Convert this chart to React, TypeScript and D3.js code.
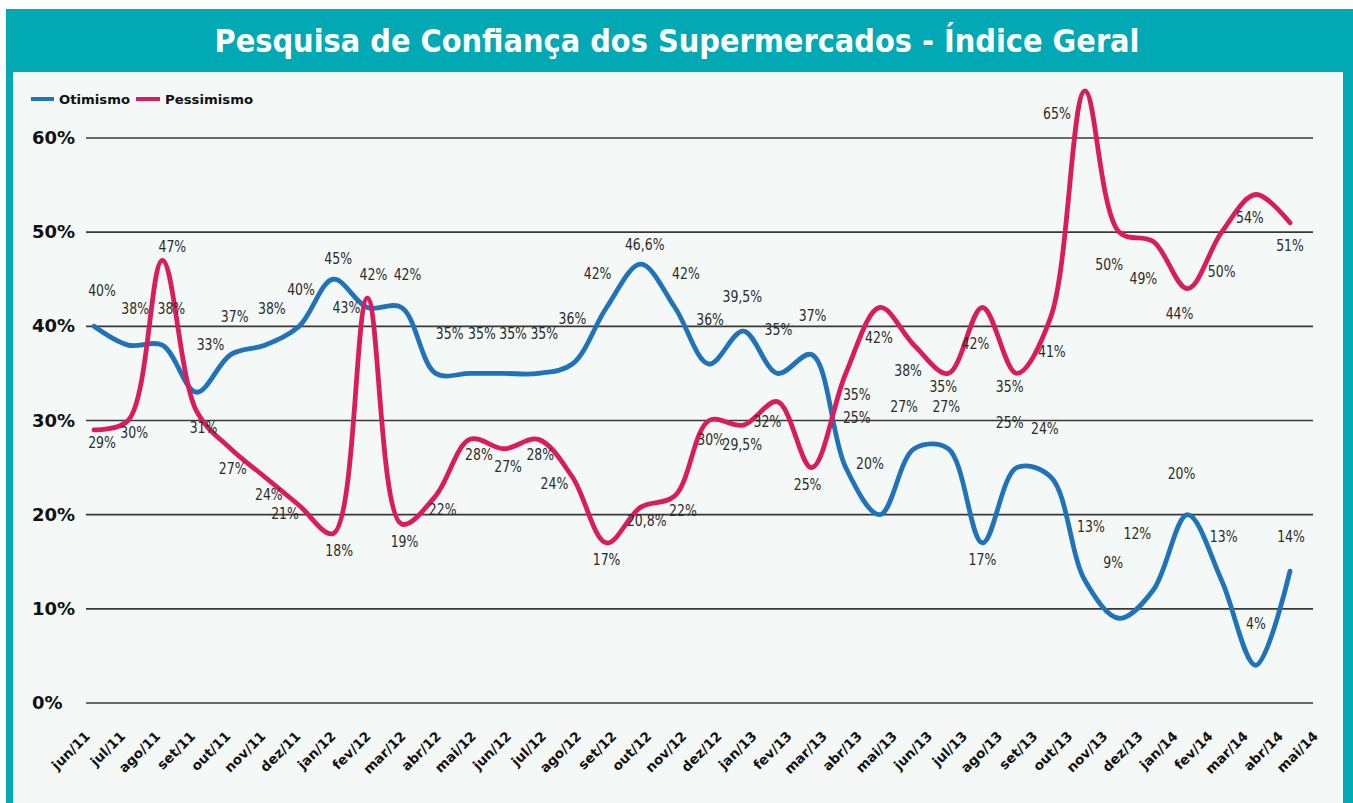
import * as d3 from "d3";

const WIDTH = 1353;
const HEIGHT = 803;

const TITLE = "Pesquisa de Confiança dos Supermercados - Índice Geral";

const months = [
  "jun/11", "jul/11", "ago/11", "set/11", "out/11", "nov/11", "dez/11",
  "jan/12", "fev/12", "mar/12", "abr/12", "mai/12", "jun/12", "jul/12",
  "ago/12", "set/12", "out/12", "nov/12", "dez/12", "jan/13", "fev/13",
  "mar/13", "abr/13", "mai/13", "jun/13", "jul/13", "ago/13", "set/13",
  "out/13", "nov/13", "dez/13", "jan/14", "fev/14", "mar/14", "abr/14",
  "mai/14",
];

const otimismo = [
  40, 38, 38, 33, 37, 38, 40, 45, 42, 42, 35, 35, 35, 35, 36, 42, 46.6, 42,
  36, 39.5, 35, 37, 25, 20, 27, 27, 17, 25, 24, 13, 9, 12, 20, 13, 4, 14,
];

const pessimismo = [
  29, 30, 47, 31, 27, 24, 21, 18, 43, 19, 22, 28, 27, 28, 24, 17, 20.8, 22,
  30, 29.5, 32, 25, 35, 42, 38, 35, 42, 35, 41, 65, 50, 49, 44, 50, 54, 51,
];

const yTicks = [0, 10, 20, 30, 40, 50, 60];

const series = [
  { name: "Otimismo", values: otimismo, color: "#2173b9" },
  { name: "Pessimismo", values: pessimismo, color: "#d91d5c" },
];

// where each value label sits, in px from its point
const otimismoNudge = [
  [8, -36], [7, -37], [9, -37], [14, -48], [4, -38], [7, -37], [2, -37],
  [5, -21], [6, -33], [6, -33], [14, -40], [12, -40], [9, -40], [6, -40],
  [0, -46], [-9, -34], [4, -20], [11, -34], [1, -45], [-1, -35], [1, -44],
  [1, -39], [11, -50], [-10, -51], [-10, -42], [-2, -42], [0, 17], [-7, -45],
  [-6, -49], [6, -54], [-6, -56], [-16, -57], [-6, -41], [2, -44], [0, -42],
  [1, -35],
];
const pessimismoNudge = [
  [8, 13], [6, 12], [10, -14], [7, 16], [2, 20], [4, 17], [-14, 8], [6, 17],
  [-21, 9], [3, 17], [7, 14], [9, 15], [4, 18], [2, 15], [-18, 6], [0, 17],
  [6, 13], [8, 15], [2, 19], [-1, 19], [-10, 20], [-4, 17], [11, 21], [-1, 30],
  [-6, 25], [-5, 13], [-7, 36], [-7, 13], [1, 35], [-28, 23], [-10, 32],
  [-10, 37], [-8, 25], [0, 39], [-6, 23], [0, 23],
];
const nudges = [otimismoNudge, pessimismoNudge];

const fmt = (v: number) => `${String(v).replace(".", ",")}%`;

const LABEL_FONT = "'DejaVu Sans', sans-serif";
const BOLD_FONT = "'DejaVu Sans', Verdana, sans-serif";

export default function App() {
  const xScale = d3.scalePoint<string>().domain(months).range([94, 1290]);
  const tickScale = d3.scalePoint<string>().domain(months).range([91, 1319]);
  const yScale = d3.scaleLinear().domain([0, 60]).range([703, 138]);

  const lineBuilder = d3
    .line<number>()
    .x((_, i) => xScale(months[i])!)
    .y((d) => yScale(d))
    .curve(d3.curveCatmullRom.alpha(0.5));

  return (
    <svg
      width={WIDTH}
      height={HEIGHT}
      style={{ position: "absolute", left: 0, top: 0, background: "#fff" }}
    >
      <rect x={6} y={9} width={WIDTH - 6} height={HEIGHT - 9} fill="#00a9b4" />
      <rect x={13} y={72} width={1330} height={HEIGHT - 72} fill="#f4f8f7" />
      <text
        x={677}
        y={52}
        textAnchor="middle"
        fill="#fff"
        fontFamily={BOLD_FONT}
        fontWeight="bold"
        fontSize={32}
        textLength={925}
        lengthAdjust="spacingAndGlyphs"
      >
        {TITLE}
      </text>

      {/* legend */}
      <g fontFamily={BOLD_FONT} fontWeight="bold" fontSize={13} fill="#111">
        <rect x={31} y={97} width={23} height={4} fill={series[0].color} />
        <text x={59} y={104} textLength={71} lengthAdjust="spacingAndGlyphs">
          {series[0].name}
        </text>
        <rect x={136} y={97} width={24} height={4} fill={series[1].color} />
        <text x={165} y={104} textLength={88} lengthAdjust="spacingAndGlyphs">
          {series[1].name}
        </text>
      </g>

      {/* grid + y labels */}
      {yTicks.map((t) => (
        <g key={t}>
          <line x1={86} x2={1313} y1={yScale(t)} y2={yScale(t)} stroke="#383838" strokeWidth={1.6} />
          <text
            x={32}
            y={yScale(t) + 6}
            fontFamily={BOLD_FONT}
            fontWeight="bold"
            fontSize={18}
            fill="#111"
          >
            {t}%
          </text>
        </g>
      ))}

      {/* x labels */}
      {months.map((m) => (
        <text
          key={m}
          transform={`translate(${tickScale(m)},737) rotate(-45)`}
          textAnchor="end"
          fontFamily={BOLD_FONT}
          fontWeight="bold"
          fontSize={13.5}
          fill="#111"
        >
          {m}
        </text>
      ))}

      {/* lines */}
      {series.map((s) => (
        <path
          key={s.name}
          d={lineBuilder(s.values) || ""}
          fill="none"
          stroke={s.color}
          strokeWidth={4.8}
          strokeLinecap="round"
          strokeLinejoin="round"
        />
      ))}

      {/* value labels, squeezed to look condensed */}
      {series.map((s, si) => (
        <g key={s.name + "-labels"} fontFamily={LABEL_FONT} fontSize={16} fill="#2b2b2b" textAnchor="middle">
          {s.values.map((v, i) => (
            <text
              key={i}
              transform={`translate(${xScale(months[i])! + nudges[si][i][0]},${yScale(v) + nudges[si][i][1]}) scale(0.78,1)`}
              dominantBaseline="central"
            >
              {fmt(v)}
            </text>
          ))}
        </g>
      ))}
    </svg>
  );
}
